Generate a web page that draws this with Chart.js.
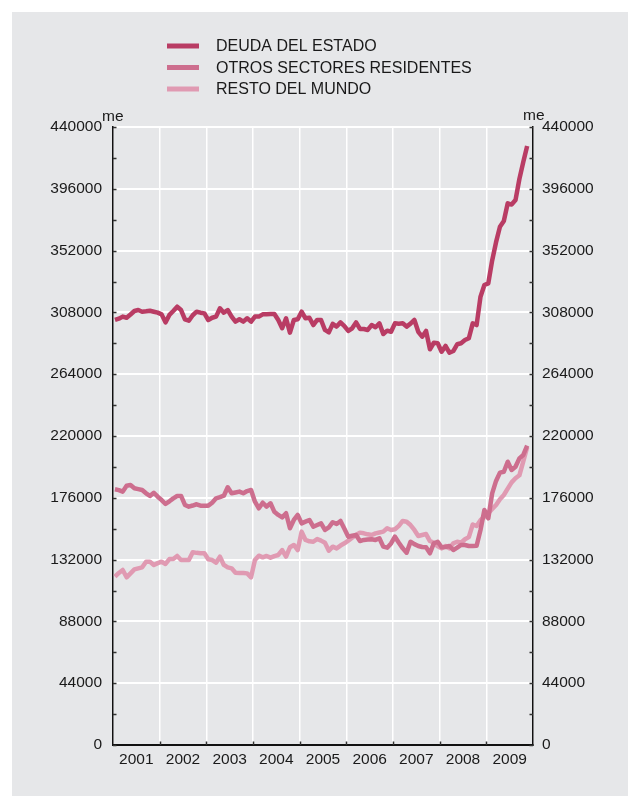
<!DOCTYPE html>
<html>
<head>
<meta charset="utf-8">
<script src="https://cdn.jsdelivr.net/npm/chart.js@4/dist/chart.umd.min.js"></script>
<style>
  html, body { margin: 0; padding: 0; background: #fff; }
  #wrap { position: relative; width: 628px; height: 796px; }
  canvas { position: absolute; left: 0; top: 0; }
</style>
</head>
<body>
<div id="wrap"><canvas id="chart" width="628" height="796"></canvas></div>
<script>
// monthly values, Jan 2001 .. Nov 2009 (millones de euros)
const years = ["2001", "2002", "2003", "2004", "2005", "2006", "2007", "2008", "2009"];
const yTicks = [0, 44000, 88000, 132000, 176000, 220000, 264000, 308000, 352000, 396000, 440000];

const deuda = [
  302600, 303500, 305000, 304200, 306500, 309000, 309700, 308500, 308800, 309200, 308500, 307800,
  306600, 300900, 306200, 309000, 312100, 309700, 303100, 302100, 306000, 308500, 307800, 307300,
  302600, 304200, 305000, 310900, 307800, 309700, 305000, 301400, 303100, 301400, 303800, 301400,
  305000, 305000, 306600, 306700, 306800, 306900, 302600, 296700, 303800, 293600, 302600, 303100,
  308500, 303800, 304200, 299000, 302600, 302600, 295500, 293800, 299800, 297900, 300900, 298300,
  294800, 296700, 300900, 296200, 296200, 295500, 299000, 297400, 300200, 292600, 295000, 294200,
  300200, 300000, 300200, 297900, 300000, 302600, 294200, 290700, 294800, 281700, 286400, 286000,
  280000, 284100, 279300, 280500, 285300, 286000, 288300, 289600, 300200, 299000, 319200, 327500,
  328700, 345000, 358000, 369000, 373100, 385700, 384800, 388000, 403000, 415000, 426500
];

const otros = [
  182100, 181500, 180400, 184600, 185100, 182800, 182200, 181600, 179200, 177300, 179600, 176800,
  174400, 171600, 173500, 175600, 177300, 177300, 170900, 169700, 170500, 171400, 170400, 170400,
  170400, 172500, 175600, 176500, 177500, 183500, 179200, 179800, 180400, 179200, 180800, 181600,
  173200, 168500, 172500, 169700, 172100, 166000, 163800, 162100, 165000, 154300, 160200, 163800,
  157800, 159000, 160200, 155400, 156600, 157800, 153100, 155000, 158600, 157400, 159500, 154000,
  148300, 149000, 149500, 145200, 146000, 146300, 146500, 146000, 147200, 141200, 140500, 143500,
  148300, 144000, 140000, 136900, 144700, 143000, 141700, 141000, 140800, 136500, 143600, 144700,
  140800, 141000, 141700, 138800, 140500, 142400, 142400, 141700, 141700, 141900, 153100, 167300,
  161400, 179200, 188000, 193900, 194500, 201700, 195800, 198100, 204100, 206500, 213100
];

const resto = [
  119800, 122500, 124600, 119400, 122200, 125000, 125800, 126500, 130500, 130500, 128200, 129500,
  130500, 128900, 132400, 132400, 134600, 131700, 131700, 131700, 137200, 136800, 136500, 136500,
  132200, 131700, 129800, 134100, 128200, 126500, 125800, 122700, 122500, 122500, 122200, 119400,
  131700, 134800, 133600, 134600, 133400, 134500, 135300, 138800, 134100, 140800, 142400, 138800,
  151900, 146000, 145000, 144700, 146700, 145500, 144000, 138300, 141200, 140000, 142000, 143600,
  145500, 147600, 149500, 151200, 150700, 150000, 149500, 150700, 151300, 151900, 154300, 153100,
  153600, 156000, 159500, 159000, 156600, 153100, 148800, 149500, 150200, 145200, 144000, 141500,
  140000, 141700, 140000, 143600, 144700, 144000, 146500, 148000, 157000, 155900, 160000, 162500,
  165000, 168000, 170900, 175000, 178000, 182500, 187000, 189900, 192000, 202000, 212000
];

const FONT = "'Liberation Sans', Arial, Helvetica, sans-serif";
const TEXT = "#1a1a1a";

function toPoints(arr) {
  return arr.map((v, i) => ({ x: i + 0.5, y: v }));
}

const panelPlugin = {
  id: "panel",
  beforeDraw(chart) {
    const c = chart.ctx;
    c.save();
    c.fillStyle = "#ffffff";
    c.fillRect(0, 0, chart.width, chart.height);
    c.fillStyle = "#e6e7e9";
    c.fillRect(12, 12, chart.width - 12, chart.height - 12);
    c.restore();
  }
};

const decorPlugin = {
  id: "decor",
  afterDraw(chart) {
    const c = chart.ctx;
    const a = chart.chartArea;
    const y = chart.scales.y;
    const x = chart.scales.x;
    c.save();
    // inward tick marks
    c.strokeStyle = "#333";
    c.lineWidth = 1.5;
    c.beginPath();
    for (let v = 0; v <= 440000; v += 22000) {
      const py = Math.round(y.getPixelForValue(v)) + 0.5;
      c.moveTo(a.left, py); c.lineTo(a.left + 3.5, py);
      c.moveTo(a.right, py); c.lineTo(a.right - 3.5, py);
    }
    for (let m = 12; m < 108; m += 12) {
      const px = Math.round(x.getPixelForValue(m)) + 0.5;
      c.moveTo(px, a.bottom); c.lineTo(px, a.bottom - 3.5);
    }
    c.stroke();

    // unit labels
    c.fillStyle = TEXT;
    c.font = "15.5px " + FONT;
    c.textBaseline = "alphabetic";
    c.textAlign = "left";
    c.fillText("me", 102, 121);
    c.fillText("me", 523, 120);

    // legend
    const ys = [46, 67.5, 89];
    chart.data.datasets.forEach((ds, i) => {
      c.strokeStyle = ds.borderColor;
      c.lineWidth = 5;
      c.lineCap = "butt";
      c.beginPath();
      c.moveTo(167, ys[i]);
      c.lineTo(199, ys[i]);
      c.stroke();
      c.fillStyle = TEXT;
      c.font = "16px " + FONT;
      c.textBaseline = "middle";
      c.fillText(ds.label, 216, ys[i] + 1);
    });
    c.restore();
  }
};

const ctx = document.getElementById("chart").getContext("2d");
new Chart(ctx, {
  type: "line",
  data: {
    datasets: [
      { label: "DEUDA DEL ESTADO", data: toPoints(deuda), borderColor: "#b93c64" },
      { label: "OTROS SECTORES RESIDENTES", data: toPoints(otros), borderColor: "#cd6e8e" },
      { label: "RESTO DEL MUNDO", data: toPoints(resto), borderColor: "#e09ab2" }
    ].map(d => Object.assign(d, {
      borderWidth: 4.5,
      pointRadius: 0,
      tension: 0,
      fill: false,
      borderJoinStyle: "round"
    }))
  },
  options: {
    responsive: false,
    animation: false,
    devicePixelRatio: 1,
    layout: { padding: { top: 127, left: 0, right: 0, bottom: 0 } },
    plugins: {
      legend: { display: false },
      tooltip: { enabled: false }
    },
    scales: {
      x: {
        type: "linear",
        min: 0,
        max: 108,
        afterFit: s => { s.height = 51; },
        afterBuildTicks: s => { s.ticks = Array.from({ length: 19 }, (_, k) => ({ value: k * 6 })); },
        grid: {
          drawTicks: false,
          color: c => (c.tick && c.tick.value % 12 === 0) ? "#ffffff" : "rgba(0,0,0,0)",
          lineWidth: 1.5
        },
        border: { color: "#111", width: 2 },
        ticks: {
          autoSkip: false,
          maxRotation: 0,
          padding: 5,
          color: TEXT,
          font: { family: FONT, size: 15.5 },
          callback: v => (v % 12 === 6 ? years[(v - 6) / 12] : "")
        }
      },
      y: {
        position: "left",
        min: 0,
        max: 440000,
        afterFit: s => { s.width = 113; },
        afterBuildTicks: s => { s.ticks = yTicks.map(v => ({ value: v })); },
        grid: {
          drawTicks: false,
          color: c => (c.tick && c.tick.value > 0) ? "#ffffff" : "rgba(0,0,0,0)",
          lineWidth: 2
        },
        border: { color: "#111", width: 1.5 },
        ticks: {
          padding: 11,
          color: TEXT,
          font: { family: FONT, size: 15.5 },
          callback: v => String(v)
        }
      },
      y2: {
        position: "right",
        min: 0,
        max: 440000,
        afterFit: s => { s.width = 95; },
        afterBuildTicks: s => { s.ticks = yTicks.map(v => ({ value: v })); },
        grid: { drawOnChartArea: false, drawTicks: false },
        border: { color: "#111", width: 1.5 },
        ticks: {
          padding: 9,
          color: TEXT,
          font: { family: FONT, size: 15.5 },
          callback: v => String(v)
        }
      }
    }
  },
  plugins: [panelPlugin, decorPlugin]
});
</script>
</body>
</html>
